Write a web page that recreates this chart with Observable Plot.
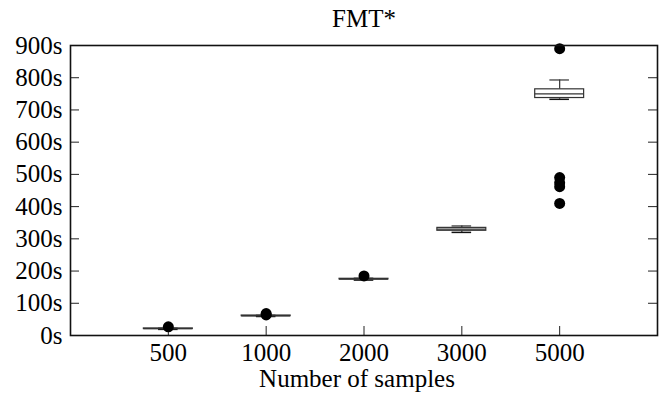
<!DOCTYPE html>
<html>
<head>
<meta charset="utf-8">
<script src="https://cdn.jsdelivr.net/npm/d3@7"></script>
<script src="https://cdn.jsdelivr.net/npm/@observablehq/plot@0.6"></script>
<style>
  html, body { margin: 0; padding: 0; background: white; }
</style>
</head>
<body>
<div id="chart"></div>
<script>
const title = "FMT*";
const xLabel = "Number of samples";
const categories = ["500", "1000", "2000", "3000", "5000"];
const whiskerLow  = [19, 59, 172, 320, 733];
const q1          = [20, 60, 174, 325, 737];
const median      = [21, 61, 175, 330, 750];
const q3          = [22, 62, 176, 334, 764];
const whiskerHigh = [23, 63, 178, 340, 793];
const outlierCategory = ["500", "1000", "1000", "2000", "5000", "5000", "5000", "5000", "5000"];
const outlierValue    = [27, 64, 68, 185, 890, 490, 474, 462, 410];
const yTicks = [0, 100, 200, 300, 400, 500, 600, 700, 800, 900];

const pos = c => categories.indexOf(c) + 1;
const boxes = categories.map((c, i) => ({
  c, x: pos(c), lo: whiskerLow[i], q1: q1[i], med: median[i], q3: q3[i], hi: whiskerHigh[i]
}));
const outliers = outlierCategory.map((c, i) => ({x: pos(c), v: outlierValue[i]}));

const W = 659, H = 394, mt = 45, mb = 59, ml = 70, mr = 2;
const fw = W - ml - mr, fh = H - mt - mb, tick = 9;
const font = "'Liberation Serif', 'Times New Roman', serif";

const chart = Plot.plot({
  width: W, height: H,
  marginTop: mt, marginBottom: mb, marginLeft: ml, marginRight: mr,
  style: {fontFamily: font, fontSize: "25px", background: "white", color: "black"},
  x: {domain: [0, categories.length + 1]},
  y: {domain: [0, 900]},
  marks: [
    Plot.tickY(yTicks, {y: d => d, insetRight: fw - tick, stroke: "#222"}),
    Plot.tickY(yTicks, {y: d => d, insetLeft: fw - tick, stroke: "#222"}),
    Plot.tickX(boxes, {x: "x", insetTop: fh - tick, stroke: "#222"}),
    Plot.axisY({ticks: yTicks, tickSize: 0, tickPadding: 8, tickFormat: d => d + "s", fontSize: 25}),
    Plot.axisX({ticks: boxes.map(b => b.x), tickSize: 0, tickPadding: 8, tickFormat: d => categories[d - 1], label: null, fontSize: 25}),
    Plot.ruleX(boxes, {x: "x", y1: "lo", y2: "q1", stroke: "#333", strokeWidth: 1.2}),
    Plot.ruleX(boxes, {x: "x", y1: "q3", y2: "hi", stroke: "#333", strokeWidth: 1.2}),
    Plot.ruleY(boxes, {y: "lo", x1: d => d.x - 0.1, x2: d => d.x + 0.1, stroke: "#111", strokeWidth: 1.5}),
    Plot.ruleY(boxes, {y: "hi", x1: d => d.x - 0.1, x2: d => d.x + 0.1, stroke: "#333", strokeWidth: 1.2}),
    Plot.rect(boxes, {x1: d => d.x - 0.25, x2: d => d.x + 0.25, y1: "q1", y2: "q3", fill: "white", stroke: "#333", strokeWidth: 1.2}),
    Plot.ruleY(boxes, {y: "med", x1: d => d.x - 0.25, x2: d => d.x + 0.25, stroke: "#333", strokeWidth: 1.2}),
    Plot.dot(outliers, {x: "x", y: "v", r: 5.5, fill: "black", stroke: "none"}),
    Plot.frame({stroke: "#111", strokeWidth: 1.6}),
    Plot.text([title], {frameAnchor: "top", dy: -27, lineAnchor: "middle", fontSize: 25, fill: "black"}),
    Plot.text([xLabel], {frameAnchor: "bottom", dx: -7, dy: 43, lineAnchor: "middle", fontSize: 25, fill: "black"})
  ]
});
document.getElementById("chart").appendChild(chart);
</script>
</body>
</html>
